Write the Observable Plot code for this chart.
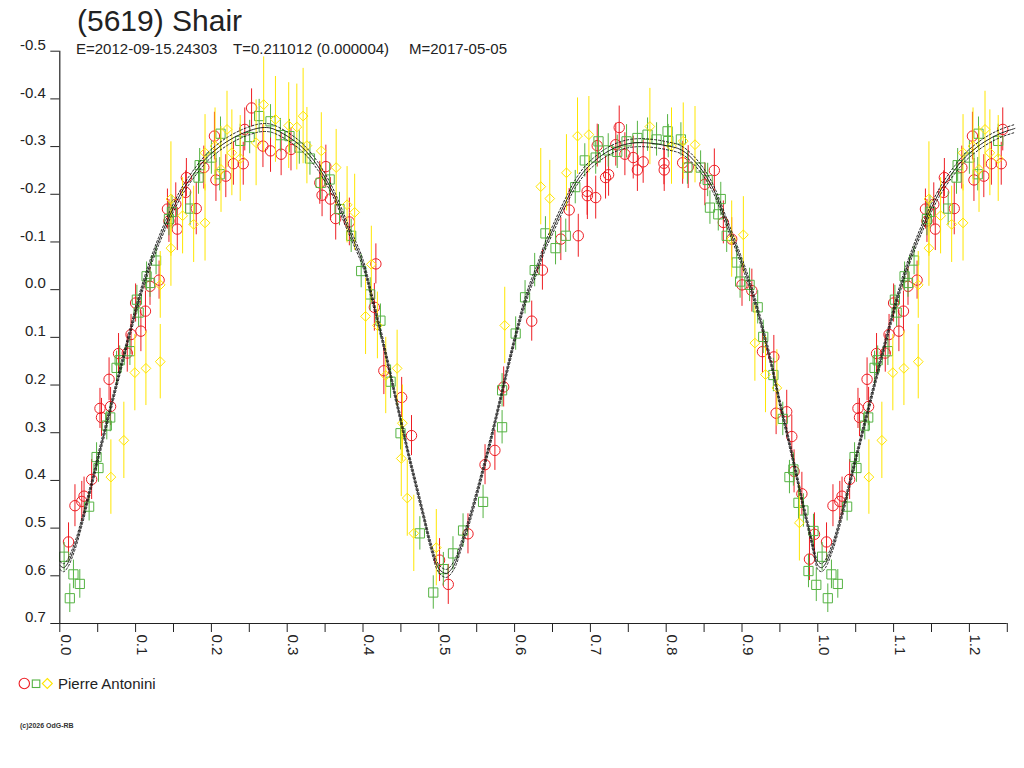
<!DOCTYPE html>
<html>
<head>
<meta charset="utf-8">
<script src="https://cdn.jsdelivr.net/npm/d3@7"></script>
<script src="https://cdn.jsdelivr.net/npm/@observablehq/plot@0.6"></script>
<style>
  html, body { margin: 0; padding: 0; background: #fff; }
  #wrap { position: relative; width: 1024px; height: 768px; background: #fff; font-family: "Liberation Sans", Arial, sans-serif; color: #222; overflow: hidden; }
  .t { position: absolute; white-space: pre; }
  #chart { position: absolute; left: 0; top: 0; }
</style>
</head>
<body>
<div id="wrap">
  <div id="chart"></div>
  <div class="t" id="title" style="left:77px; top:6px; font-size:30px; line-height:30px;"></div>
  <div class="t" id="sub1" style="left:76px; top:41px; font-size:15px; line-height:15px;"></div>
  <div class="t" id="sub2" style="left:233px; top:41px; font-size:15px; line-height:15px;"></div>
  <div class="t" id="sub3" style="left:409px; top:41px; font-size:15px; line-height:15px;"></div>
  <svg id="legsym" width="60" height="20" style="position:absolute; left:0; top:674px;"></svg>
  <div class="t" id="legtext" style="left:58px; top:675.5px; font-size:15px; line-height:15px;"></div>
  <div class="t" id="copy" style="left:20px; top:722px; font-size:7px; line-height:7px; font-weight:bold; color:#333;"></div>
</div>
<script>
// ---------- text ----------
const titleText = "(5619) Shair";
const subtitleParts = ["E=2012-09-15.24303", "T=0.211012 (0.000004)", "M=2017-05-05"];
const observerName = "Pierre Antonini";
const copyrightText = "(c)2026 OdG-RB";

// ---------- axes ----------
const yTicks = [-0.5, -0.4, -0.3, -0.2, -0.1, 0.0, 0.1, 0.2, 0.3, 0.4, 0.5, 0.6, 0.7];
const yTickLabels = ["-0.5", "-0.4", "-0.3", "-0.2", "-0.1", "0.0", "0.1", "0.2", "0.3", "0.4", "0.5", "0.6", "0.7"];
const xTicks = [0, 0.05, 0.1, 0.15, 0.2, 0.25, 0.3, 0.35, 0.4, 0.45, 0.5, 0.55, 0.6, 0.65, 0.7, 0.75, 0.8, 0.85, 0.9, 0.95, 1.0, 1.05, 1.1, 1.15, 1.2, 1.25];
const xLabelTicks = [0, 0.1, 0.2, 0.3, 0.4, 0.5, 0.6, 0.7, 0.8, 0.9, 1.0, 1.1, 1.2];
const xTickLabels = ["0.0", "0.1", "0.2", "0.3", "0.4", "0.5", "0.6", "0.7", "0.8", "0.9", "1.0", "1.1", "1.2"];
const xDomain = [0, 1.25];
const yDomain = [-0.5, 0.7];

// ---------- observations: [phase, magnitude, error] ----------
const redObs = [
  [0.0115,0.529,0.040],[0.020,0.453,0.044],[0.029,0.444,0.042],[0.032,0.433,0.040],[0.042,0.398,0.042],
  [0.053,0.249,0.042],[0.055,0.268,0.040],[0.067,0.245,0.040],[0.065,0.188,0.045],[0.0775,0.134,0.042],
  [0.089,0.133,0.040],[0.094,0.094,0.042],[0.107,0.087,0.043],[0.100,0.028,0.040],[0.113,0.045,0.042],
  [0.119,-0.007,0.040],[0.131,-0.020,0.040],[0.142,-0.169,0.042],[0.144,-0.144,0.045],[0.153,-0.179,0.045],
  [0.155,-0.127,0.045],[0.167,-0.235,0.040],[0.166,-0.204,0.045],[0.180,-0.170,0.055],[0.190,-0.256,0.045],
  [0.204,-0.322,0.050],[0.206,-0.230,0.045],[0.219,-0.238,0.045],[0.229,-0.264,0.045],[0.242,-0.264,0.045],
  [0.244,-0.336,0.045],[0.253,-0.381,0.040],[0.268,-0.301,0.045],[0.278,-0.291,0.045],[0.292,-0.284,0.045],
  [0.305,-0.294,0.045],[0.343,-0.224,0.045],[0.346,-0.198,0.045],[0.351,-0.258,0.045],[0.357,-0.190,0.045],
  [0.364,-0.149,0.045],[0.382,-0.142,0.050],[0.417,-0.054,0.042],[0.415,0.037,0.050],[0.4275,0.170,0.050],
  [0.451,0.226,0.042],[0.464,0.306,0.042],[0.501,0.567,0.045],[0.5125,0.618,0.042],[0.5385,0.512,0.042],
  [0.561,0.367,0.042],[0.574,0.337,0.042],[0.5856,0.204,0.042],[0.6226,0.066,0.042],[0.6367,-0.041,0.042],
  [0.661,-0.106,0.045],[0.684,-0.113,0.045],[0.672,-0.167,0.045],[0.6957,-0.206,0.050],[0.696,-0.197,0.050],
  [0.707,-0.193,0.045],[0.720,-0.235,0.045],[0.724,-0.241,0.045],[0.709,-0.302,0.045],[0.738,-0.340,0.045],
  [0.7335,-0.304,0.045],[0.7455,-0.284,0.045],[0.7565,-0.277,0.045],[0.762,-0.251,0.045],[0.7696,-0.268,0.045],
  [0.797,-0.265,0.045],[0.7974,-0.251,0.045],[0.8217,-0.266,0.045],[0.829,-0.257,0.045],[0.851,-0.221,0.045],
  [0.8635,-0.250,0.045],[0.8754,-0.141,0.045],[0.8864,-0.106,0.045],[0.900,-0.010,0.045],[0.913,0.002,0.045],
  [0.927,0.130,0.045],[0.942,0.141,0.045],[0.945,0.259,0.045],[0.959,0.256,0.045],[0.9657,0.308,0.045],
  [0.9687,0.381,0.045],[0.979,0.428,0.045],[0.9956,0.513,0.045],[0.989,0.565,0.045]
];
const greenObs = [
  [0.0057,0.560,0.030],[0.018,0.597,0.030],[0.0264,0.617,0.030],[0.0132,0.647,0.030],[0.0387,0.455,0.030],
  [0.051,0.374,0.030],[0.0485,0.351,0.030],[0.062,0.285,0.030],[0.0665,0.268,0.030],[0.0749,0.164,0.035],
  [0.079,0.148,0.030],[0.0925,0.129,0.030],[0.1017,0.021,0.030],[0.104,0.048,0.030],[0.1145,-0.028,0.030],
  [0.119,-0.014,0.030],[0.127,-0.061,0.030],[0.144,-0.148,0.035],[0.148,-0.163,0.035],[0.172,-0.170,0.035],
  [0.183,-0.235,0.035],[0.1845,-0.261,0.035],[0.200,-0.277,0.035],[0.212,-0.327,0.035],[0.211,-0.242,0.035],
  [0.238,-0.312,0.035],[0.2505,-0.320,0.035],[0.263,-0.364,0.035],[0.278,-0.353,0.035],[0.291,-0.324,0.035],
  [0.303,-0.322,0.035],[0.316,-0.298,0.035],[0.330,-0.275,0.035],[0.344,-0.224,0.035],[0.356,-0.231,0.035],
  [0.369,-0.169,0.035],[0.3844,-0.113,0.035],[0.3976,-0.039,0.035],[0.4095,0.010,0.035],[0.423,0.065,0.035],
  [0.4364,0.193,0.035],[0.4495,0.301,0.035],[0.475,0.511,0.035],[0.506,0.586,0.035],[0.5187,0.553,0.035],
  [0.4927,0.635,0.035],[0.532,0.505,0.035],[0.5584,0.445,0.035],[0.5835,0.2885,0.035],[0.5835,0.211,0.035],
  [0.6014,0.092,0.035],[0.6138,0.016,0.035],[0.6265,-0.041,0.035],[0.6407,-0.118,0.035],[0.654,-0.087,0.035],
  [0.6675,-0.113,0.035],[0.680,-0.215,0.035],[0.6926,-0.271,0.035],[0.707,-0.277,0.035],[0.7107,-0.311,0.035],
  [0.7235,-0.292,0.035],[0.7354,-0.289,0.035],[0.7477,-0.311,0.035],[0.762,-0.318,0.035],[0.7754,-0.325,0.035],
  [0.7873,-0.315,0.035],[0.8018,-0.332,0.035],[0.8027,-0.3115,0.035],[0.8194,-0.315,0.035],[0.828,-0.256,0.035],
  [0.8454,-0.256,0.035],[0.8547,-0.230,0.035],[0.8577,-0.172,0.035],[0.872,-0.190,0.035],[0.8687,-0.158,0.035],
  [0.8798,-0.113,0.035],[0.893,-0.057,0.035],[0.8975,-0.017,0.035],[0.910,-0.010,0.035],[0.9207,0.037,0.035],
  [0.928,0.099,0.035],[0.9414,0.179,0.035],[0.9538,0.271,0.035],[0.9626,0.393,0.035],[0.9678,0.377,0.035],
  [0.9745,0.447,0.035],[0.981,0.463,0.035],[0.9943,0.506,0.035],[0.9877,0.590,0.035],[0.998,0.619,0.035]
];
const yellowObs = [
  [0.0674,0.393,0.078],[0.0845,0.316,0.080],[0.099,0.174,0.080],[0.1136,0.165,0.078],[0.1325,0.151,0.078],
  [0.1325,-0.010,0.070],[0.1466,-0.190,0.120],[0.1466,-0.087,0.080],[0.162,-0.155,0.080],[0.1766,-0.137,0.080],
  [0.1916,-0.140,0.080],[0.1916,-0.287,0.080],[0.2048,-0.301,0.080],[0.2127,-0.252,0.090],[0.2206,-0.336,0.080],
  [0.227,-0.287,0.090],[0.238,-0.275,0.090],[0.259,-0.308,0.090],[0.269,-0.388,0.100],[0.2845,-0.357,0.090],
  [0.302,-0.344,0.090],[0.3127,-0.341,0.090],[0.321,-0.364,0.100],[0.326,-0.302,0.080],[0.345,-0.291,0.080],
  [0.3646,-0.256,0.080],[0.379,-0.178,0.080],[0.389,-0.162,0.080],[0.411,-0.053,0.080],[0.4034,0.056,0.080],
  [0.419,0.075,0.070],[0.445,0.165,0.080],[0.430,0.180,0.080],[0.452,0.280,0.080],[0.4505,0.354,0.080],
  [0.4584,0.437,0.080],[0.467,0.511,0.080],[0.4967,0.541,0.080],[0.587,0.075,0.080],[0.6345,-0.216,0.080],
  [0.6464,-0.191,0.080],[0.6684,-0.245,0.080],[0.683,-0.322,0.080],[0.698,-0.325,0.080],[0.7785,-0.342,0.080],
  [0.807,-0.301,0.080],[0.8225,-0.3115,0.080],[0.838,-0.304,0.080],[0.8864,-0.106,0.080],[0.9018,-0.115,0.080],
  [0.917,0.112,0.080],[0.931,0.178,0.080],[0.946,0.206,0.080],[0.9757,0.489,0.080]
];

// ---------- fitted lightcurve: [phase, magnitude] ----------
const fitCurve = [
  [0.000,0.578],[0.005,0.583],[0.010,0.575],[0.020,0.537],[0.030,0.482],[0.040,0.420],[0.050,0.355],
  [0.060,0.292],[0.070,0.229],[0.080,0.166],[0.090,0.105],[0.100,0.045],[0.110,-0.010],[0.120,-0.058],
  [0.130,-0.100],[0.140,-0.138],[0.150,-0.172],[0.160,-0.203],[0.170,-0.228],[0.180,-0.250],[0.190,-0.270],
  [0.200,-0.286],[0.220,-0.310],[0.240,-0.327],[0.260,-0.338],[0.270,-0.340],[0.280,-0.338],[0.300,-0.322],
  [0.320,-0.298],[0.340,-0.260],[0.360,-0.205],[0.380,-0.130],[0.400,-0.055],[0.410,0.005],[0.420,0.068],
  [0.430,0.135],[0.440,0.205],[0.450,0.275],[0.460,0.345],[0.470,0.410],[0.480,0.475],[0.490,0.540],
  [0.500,0.585],[0.510,0.595],[0.520,0.578],[0.530,0.534],[0.540,0.485],[0.550,0.428],[0.560,0.368],
  [0.570,0.305],[0.580,0.238],[0.590,0.170],[0.600,0.105],[0.610,0.045],[0.620,-0.005],[0.630,-0.045],
  [0.640,-0.090],[0.650,-0.125],[0.660,-0.160],[0.670,-0.192],[0.680,-0.222],[0.690,-0.245],[0.700,-0.262],
  [0.720,-0.287],[0.740,-0.302],[0.760,-0.308],[0.780,-0.307],[0.800,-0.302],[0.820,-0.293],[0.840,-0.265],
  [0.860,-0.218],[0.880,-0.140],[0.900,-0.057],[0.910,-0.012],[0.920,0.040],[0.930,0.100],[0.940,0.165],
  [0.950,0.238],[0.960,0.305],[0.970,0.375],[0.980,0.448],[0.990,0.515],[0.995,0.550]
];

// ---------- colours ----------
const redColor = "#ee1d23";
const greenColor = "#55b343";
const yellowColor = "#ffe600";
const inkColor = "#222222";
const curveColor = "#111111";

// phase-folded display repeats phases 0..0.25 after 1.0
const repeatMax = xDomain[1] - 1;
function rows(arr) {
  const base = arr.map(([p, m, e]) => ({p, m, e}));
  return base.concat(base.filter(d => d.p <= repeatMax).map(d => ({...d, p: d.p + 1})));
}
function curveRows(arr) {
  const base = arr.map(([p, m]) => ({p, m}));
  return base.concat(base.filter(d => d.p <= repeatMax + 0.01).map(d => ({...d, p: d.p + 1})));
}
const red = rows(redObs), green = rows(greenObs), yellow = rows(yellowObs);
const curve = curveRows(fitCurve);

function series(data, color, symbol, r) {
  return [
    Plot.ruleX(data, {x: "p", y1: d => d.m - d.e, y2: d => d.m + d.e, stroke: color, strokeWidth: 1}),
    Plot.dot(data, {x: "p", y: "m", symbol, r, stroke: color, fill: "none", strokeWidth: 1})
  ];
}

const chart = Plot.plot({
  width: 1024,
  height: 660,
  marginLeft: 59.3,
  marginRight: 17.2,
  marginTop: 50.7,
  marginBottom: 37,
  x: {domain: xDomain, axis: null},
  y: {domain: yDomain, reverse: true, axis: null},
  style: {fontFamily: "'Liberation Sans', Arial, sans-serif", fontSize: "15px", color: inkColor, background: "transparent", overflow: "visible"},
  marks: [
    ...series(red, redColor, "circle", 5.2),
    ...series(green, greenColor, "square", 5.2),
    ...series(yellow, yellowColor, "diamond2", 4.4),
    Plot.line(curve, {x: "p", y: "m", stroke: curveColor, strokeWidth: 0.9, curve: "catmull-rom"}),
    Plot.line(curve, {x: "p", y: "m", stroke: curveColor, strokeWidth: 0.9, strokeDasharray: "2,2", dy: -4, curve: "catmull-rom"}),
    Plot.line(curve, {x: "p", y: "m", stroke: curveColor, strokeWidth: 0.9, strokeDasharray: "2,2", dy: 4, curve: "catmull-rom"}),
    Plot.axisY({ticks: yTicks, tickSize: 9, tickFormat: () => "", label: null, stroke: inkColor}),
    Plot.axisX({ticks: xTicks, tickSize: 9, tickFormat: () => "", label: null, stroke: inkColor}),
    Plot.ruleX([0], {y1: yDomain[0], y2: yDomain[1], stroke: inkColor, strokeWidth: 1.2}),
    Plot.ruleY([yDomain[1]], {x1: xDomain[0], x2: xDomain[1], stroke: inkColor, strokeWidth: 1.2}),
    Plot.text(yTickLabels, {x: 0, y: (d, i) => yTicks[i], text: d => d, textAnchor: "end", dx: -14, dy: -6, fill: inkColor, fontSize: 15}),
    Plot.text(xTickLabels, {x: (d, i) => xLabelTicks[i], y: yDomain[1], text: d => d, rotate: 90, textAnchor: "start", lineAnchor: "bottom", dy: 11, dx: 1, fill: inkColor, fontSize: 15})
  ]
});
document.getElementById("chart").appendChild(chart);

// ---------- titles, legend ----------
document.getElementById("title").textContent = titleText;
document.getElementById("sub1").textContent = subtitleParts[0];
document.getElementById("sub2").textContent = subtitleParts[1];
document.getElementById("sub3").textContent = subtitleParts[2];
document.getElementById("legtext").textContent = observerName;
document.getElementById("copy").textContent = copyrightText;

const leg = d3.select("#legsym");
leg.append("circle").attr("cx", 24.3).attr("cy", 9.5).attr("r", 5.2).attr("fill", "none").attr("stroke", redColor).attr("stroke-width", 1.1);
leg.append("rect").attr("x", 32.3).attr("y", 6).attr("width", 7.5).attr("height", 7.5).attr("fill", "none").attr("stroke", greenColor).attr("stroke-width", 1.1);
leg.append("path").attr("d", "M47.3,4.5 L52.3,9.5 L47.3,14.5 L42.3,9.5 Z").attr("fill", "none").attr("stroke", yellowColor).attr("stroke-width", 1.1);
</script>
</body>
</html>
